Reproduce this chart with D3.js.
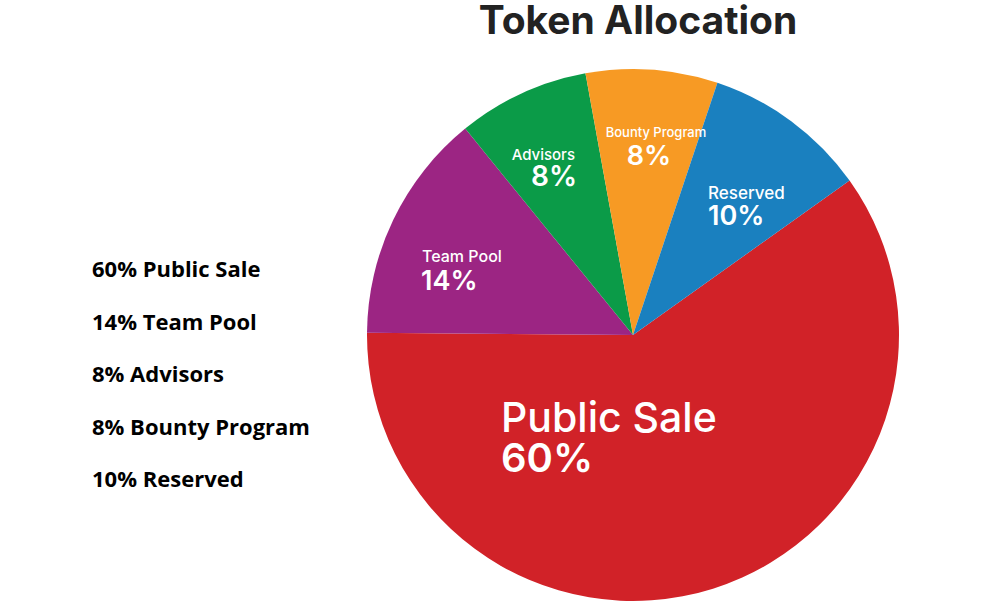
<!DOCTYPE html>
<html><head><meta charset="utf-8">
<script src="https://cdn.jsdelivr.net/npm/d3@7"></script>
<style>body{margin:0;background:#fff} svg{display:block}</style>
</head><body>
<svg id="c" width="990" height="604"></svg>
<script>
// ---- data ----
const title = "Token Allocation";
const categories = ["Public Sale", "Team Pool", "Advisors", "Bounty Program", "Reserved"];
const values = [60, 14, 8, 8, 10];
const colors = ["#d12228", "#9c2583", "#0b9b48", "#f79a24", "#1a80bf"];
const legendItems = ["60% Public Sale", "14% Team Pool", "8% Advisors", "8% Bounty Program", "10% Reserved"];

// ---- layout / style ----
const W = 990, H = 604;
const cx = 633, cy = 335, R = 266;
const start = 54.5 * Math.PI / 180;
const labelStyle = {
  "Public Sale":    {anchor: "start",  x: -132, px: -132, ny: 97,   py: 137,  ns: 41, ps: 40},
  "Team Pool":      {anchor: "start",  x: -211, px: -212, ny: -73,  py: -45,  ns: 16, ps: 27},
  "Advisors":       {anchor: "end",    x: -58,  px: -56,  ny: -175, py: -149, ns: 15, ps: 28},
  "Bounty Program": {anchor: "middle", x: 23,   px: 16,   ny: -198, py: -170, ns: 13, ps: 27},
  "Reserved":       {anchor: "start",  x: 75,   px: 75,   ny: -136, py: -110, ns: 17, ps: 27}
};
const labelFont = "Inter, 'Noto Sans', sans-serif";

const svg = d3.select("#c");
const data = categories.map((c, i) => ({cat: c, value: values[i], color: colors[i]}));

const pie = d3.pie().sort(null).value(d => d.value)
  .startAngle(start).endAngle(start + 2 * Math.PI);
const arc = d3.arc().innerRadius(0).outerRadius(R);

const g = svg.append("g").attr("transform", `translate(${cx},${cy})`);
g.selectAll("path").data(pie(data)).join("path")
  .attr("d", arc)
  .attr("fill", d => d.data.color);

const lab = g.selectAll("g.lab").data(pie(data)).join("g").attr("class", "lab");
lab.append("text")
  .attr("x", d => labelStyle[d.data.cat].x)
  .attr("y", d => labelStyle[d.data.cat].ny)
  .attr("text-anchor", d => labelStyle[d.data.cat].anchor)
  .style("font-family", labelFont)
  .style("font-weight", 500)
  .style("font-size", d => labelStyle[d.data.cat].ns + "px")
  .attr("fill", "#fff")
  .text(d => d.data.cat);
lab.append("text")
  .attr("x", d => labelStyle[d.data.cat].px)
  .attr("y", d => labelStyle[d.data.cat].py)
  .attr("text-anchor", d => labelStyle[d.data.cat].anchor)
  .style("font-family", labelFont)
  .style("font-weight", 600)
  .style("font-size", d => labelStyle[d.data.cat].ps + "px")
  .attr("fill", "#fff")
  .text(d => d.data.value + "%");

// title
svg.append("text")
  .attr("x", 638).attr("y", 34)
  .attr("text-anchor", "middle")
  .style("font-family", labelFont)
  .style("font-weight", 700)
  .style("font-size", "39px")
  .attr("fill", "#222")
  .text(title);

// legend
svg.append("g").selectAll("text").data(legendItems).join("text")
  .attr("x", 92)
  .attr("y", (d, i) => 277 + i * 52.5)
  .style("font-family", "'Open Sans', Lato, sans-serif")
  .style("font-weight", 700)
  .style("font-size", "22px")
  .attr("fill", "#000")
  .text(d => d);
</script>
</body></html>
